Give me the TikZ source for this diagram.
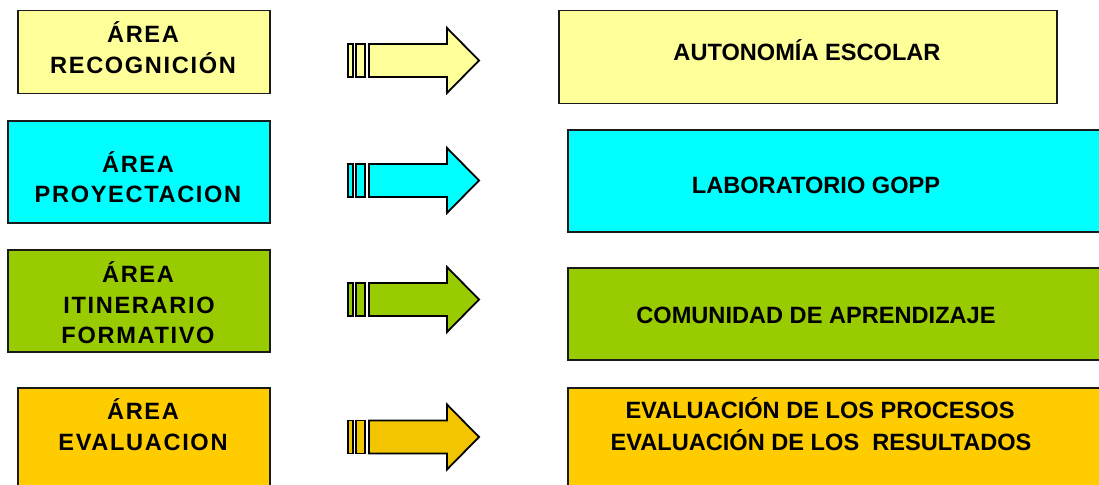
\documentclass[tikz,border=0pt]{standalone}
\usepackage{fontspec}
\setmainfont{Liberation Sans}
\definecolor{lyellow}{HTML}{FFFF99}
\definecolor{lcyan}{HTML}{00FFFF}
\definecolor{lgreen}{HTML}{99CC00}
\definecolor{lgold}{HTML}{FFCC00}
\definecolor{agold}{HTML}{F2C500}
\definecolor{edge}{HTML}{1A1A1A}
\tikzset{
  box/.style={draw=edge, line width=1.5pt, rectangle, inner sep=0pt, anchor=north west},
  txt/.style={font=\fontsize{23.6}{30}\selectfont\bfseries, anchor=base, inner sep=0pt, text=black},
  ltxt/.style={txt, font=\fontsize{23.6}{30}\selectfont\bfseries\addfontfeature{LetterSpace=7}},
  arr/.style={draw=black, line width=1.8pt, line join=miter},
}
\newcommand\bArrow[3]{% name, centre y, colour
  \coordinate (#1) at (348,#2);
  \path[arr, fill=#3] ([shift={(0,-16.5)}]#1) rectangle ([shift={(5,16.5)}]#1);
  \path[arr, fill=#3] ([shift={(8,-16.5)}]#1) rectangle ([shift={(17,16.5)}]#1);
  \path[arr, fill=#3] ([shift={(21,-16.5)}]#1) -- ([shift={(99,-16.5)}]#1)
     -- ([shift={(99,-32.5)}]#1) -- ([shift={(131,0)}]#1)
     -- ([shift={(99,32.5)}]#1) -- ([shift={(99,16.5)}]#1)
     -- ([shift={(21,16.5)}]#1) -- cycle;
}
\begin{document}
\begin{tikzpicture}[x=1pt,y=-1pt]
\useasboundingbox (0,0) rectangle (1099,484);
\clip (0,0) rectangle (1099,484);
\fill[white] (0,0) rectangle (1099,484);
% left boxes
\node[box, fill=lyellow, minimum width=252pt, minimum height=83pt] (L1) at (17,10) {};
\node[box, fill=lcyan, minimum width=262pt, minimum height=102pt] (L2) at (7,120) {};
\node[box, fill=lgreen, minimum width=262pt, minimum height=102pt] (L3) at (7,249) {};
\node[box, fill=lgold, minimum width=252pt, minimum height=120pt] (L4) at (17,387) {};
% right boxes
\node[box, fill=lyellow, minimum width=498pt, minimum height=93pt] (R1) at (558,10) {};
\node[box, fill=lcyan, minimum width=560pt, minimum height=102pt] (R2) at (567,129) {};
\node[box, fill=lgreen, minimum width=560pt, minimum height=92pt] (R3) at (567,267) {};
\node[box, fill=lgold, minimum width=560pt, minimum height=120pt] (R4) at (567,387) {};
% left texts
\node[ltxt] (L1a) at (143,43) {ÁREA};
\node[ltxt] (L1b) at (143,74) {RECOGNICIÓN};
\node[ltxt] (L2a) at (138,172) {ÁREA};
\node[ltxt] (L2b) at (138,202) {PROYECTACION};
\node[ltxt] (L3a) at (138,282) {ÁREA};
\node[ltxt] (L3b) at (139,313) {ITINERARIO};
\node[ltxt] (L3c) at (138,343) {FORMATIVO};
\node[ltxt] (L4a) at (143,419) {ÁREA};
\node[ltxt] (L4b) at (143,450) {EVALUACION};
% right texts
\node[txt] (R1a) at (807,61) {AUTONOMÍA ESCOLAR};
\node[txt] (R2a) at (816,193) {LABORATORIO GOPP};
\node[txt] (R3a) at (816,323) {COMUNIDAD DE APRENDIZAJE};
\node[txt] (R4a) at (820,418) {EVALUACIÓN DE LOS PROCESOS};
\node[txt] (R4b) at (821,450) {EVALUACIÓN DE LOS\ \ RESULTADOS};
% arrows
\bArrow{A1}{60.5}{lyellow}
\bArrow{A2}{180.5}{lcyan}
\bArrow{A3}{299.5}{lgreen}
\bArrow{A4}{437}{agold}
\end{tikzpicture}
\end{document}
